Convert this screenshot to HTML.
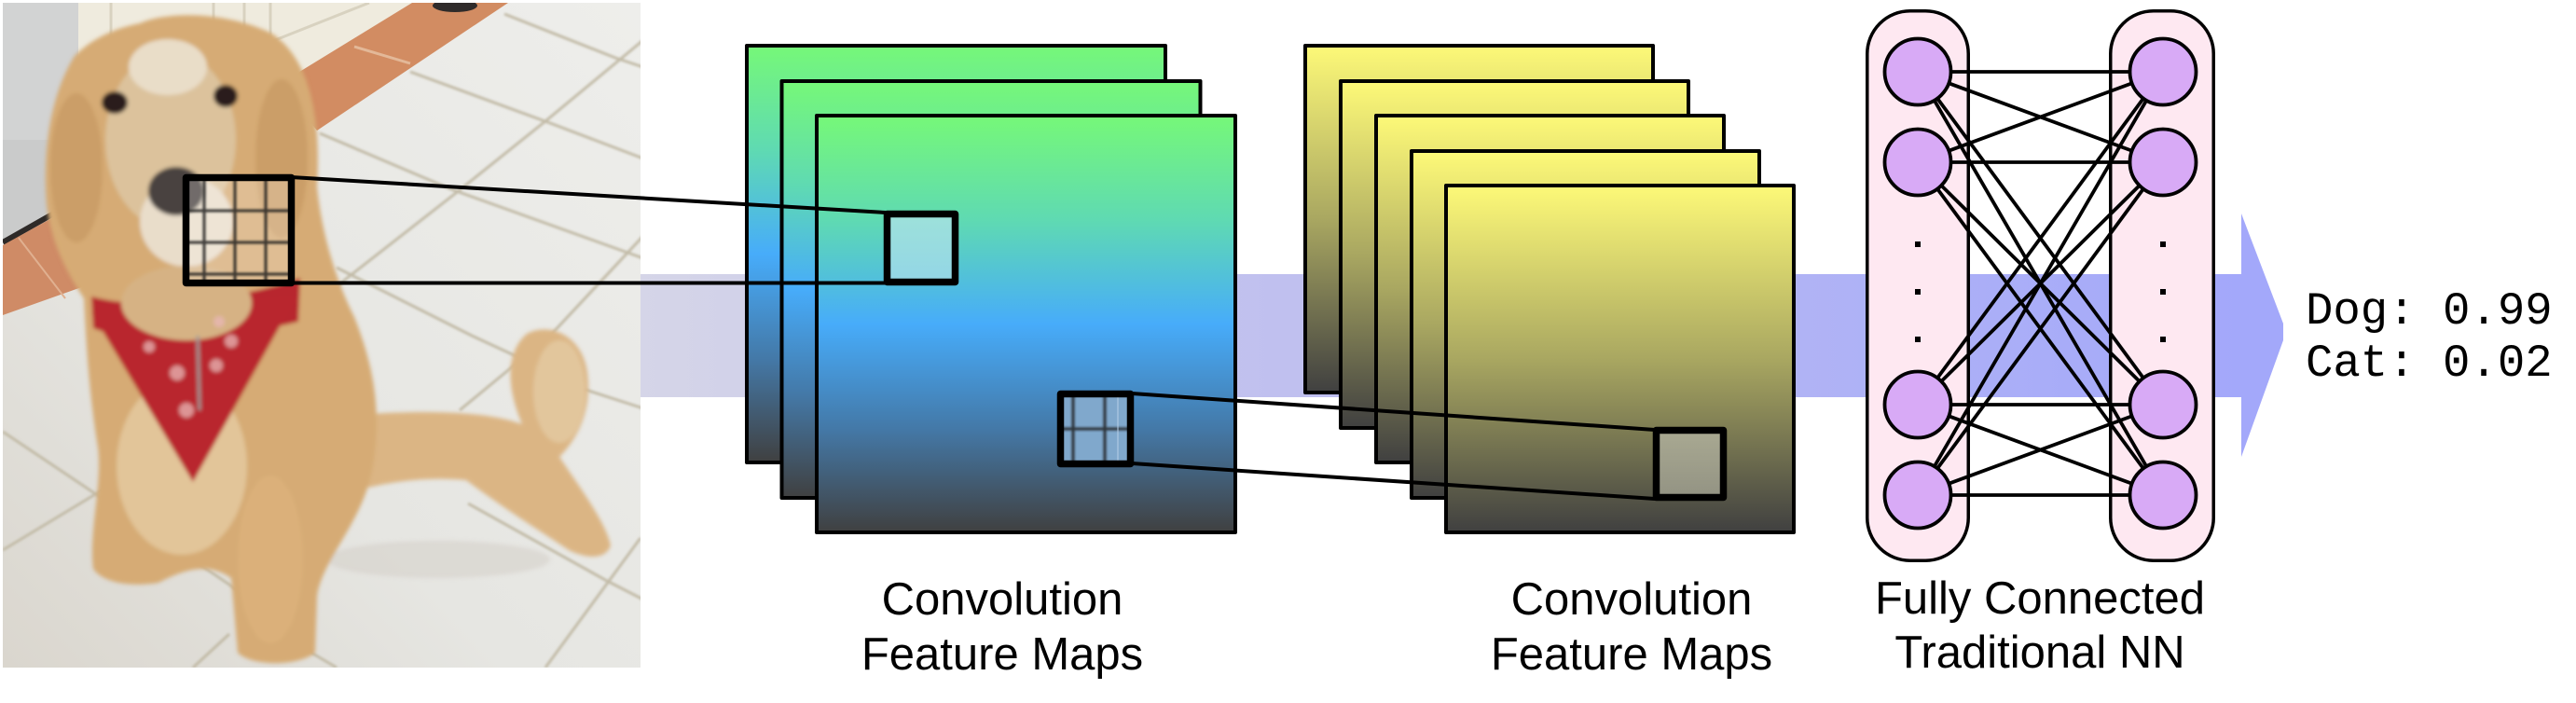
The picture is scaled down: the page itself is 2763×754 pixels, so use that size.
<!DOCTYPE html>
<html><head><meta charset="utf-8"><style>
html,body{margin:0;padding:0;background:#fff;}
svg{display:block;}
</style></head><body>
<svg width="2763" height="754" viewBox="0 0 2763 754" xmlns="http://www.w3.org/2000/svg">
<defs>
  <linearGradient id="band" gradientUnits="userSpaceOnUse" x1="687" y1="0" x2="2404" y2="0">
    <stop offset="0" stop-color="#d5d5e8"/>
    <stop offset="0.4" stop-color="#c0c0ef"/>
    <stop offset="1" stop-color="#a3a8fa"/>
  </linearGradient>
  <linearGradient id="green" x1="0" y1="0" x2="0" y2="1">
    <stop offset="0" stop-color="#76f878"/>
    <stop offset="0.25" stop-color="#5fdab2"/>
    <stop offset="0.5" stop-color="#47acfa"/>
    <stop offset="0.75" stop-color="#4479a8"/>
    <stop offset="1" stop-color="#404040"/>
  </linearGradient>
  <linearGradient id="yellow" x1="0" y1="0" x2="0" y2="1">
    <stop offset="0" stop-color="#fdf978"/>
    <stop offset="0.5" stop-color="#a9a761"/>
    <stop offset="1" stop-color="#404040"/>
  </linearGradient>
  <linearGradient id="floor" x1="1" y1="0" x2="0" y2="1">
    <stop offset="0" stop-color="#eeeeeb"/>
    <stop offset="0.6" stop-color="#e6e6e2"/>
    <stop offset="1" stop-color="#dad6ce"/>
  </linearGradient>
  <linearGradient id="cyanbox" x1="0" y1="0" x2="0" y2="1">
    <stop offset="0" stop-color="#9de1da"/>
    <stop offset="1" stop-color="#93d6e6"/>
  </linearGradient>
  <linearGradient id="graybox" x1="0" y1="0" x2="0" y2="1">
    <stop offset="0" stop-color="#a9a992"/>
    <stop offset="1" stop-color="#939383"/>
  </linearGradient>
  <clipPath id="photoClip"><rect x="3" y="3" width="684" height="713"/></clipPath>
  <filter id="soft" x="-5%" y="-5%" width="110%" height="110%"><feGaussianBlur stdDeviation="2.2"/></filter>
  <filter id="soft1" x="-5%" y="-5%" width="110%" height="110%"><feGaussianBlur stdDeviation="1.2"/></filter>
</defs>

<!-- ===== Band & arrow ===== -->
<rect x="687" y="294" width="1717" height="132" fill="url(#band)"/>
<polygon points="2404,229 2449,347 2449,365 2404,490" fill="#a3a8fa"/>

<!-- ===== Photo ===== -->
<g clip-path="url(#photoClip)">
  <rect x="3" y="3" width="684" height="713" fill="url(#floor)"/>
  <g stroke="#c2bba7" stroke-width="3" fill="none" filter="url(#soft1)">
    <polyline points="541,15 660,62 690,72"/>
    <polyline points="440,77 590,132 690,170"/>
    <polyline points="343,143 484,203 690,277"/>
    <polyline points="361,287 506,360 560,385"/>
    <polyline points="690,43 585,130 489,207 370,300 335,333"/>
    <polyline points="690,253 590,360 493,440"/>
    <polyline points="687,577 585,716"/>
    <polyline points="3,590 119,520"/>
    <polyline points="207,716 246,680"/>
    <polyline points="3,463 88,520 246,627 300,670"/>
    <polyline points="502,540 651,623 690,643"/>
    <polyline points="625,417 690,438"/>
    <polyline points="317,690 361,716"/>
    <polyline points="3,333 97,300"/>
  </g>
  <!-- left wall -->
  <polygon points="3,3 84,3 84,215 66,222 3,258" fill="#d2d3d3"/>
  <polygon points="3,150 84,150 84,215 66,222 3,258" fill="#c6c7c8" opacity="0.7"/>
  <line x1="3" y1="260" x2="70" y2="222" stroke="#2e2a28" stroke-width="6"/>
  <!-- left orange tiles -->
  <polygon points="3,263 70,226 110,300 3,338" fill="#cf8b66"/>
  <line x1="20" y1="255" x2="70" y2="320" stroke="#e0b090" stroke-width="2"/>
  <!-- cabinet -->
  <polygon points="84,3 442,3 300,90 84,90" fill="#efebde"/>
  <g stroke="#d8d2c0" stroke-width="3" fill="none">
    <line x1="119" y1="3" x2="119" y2="70"/>
    <line x1="229" y1="3" x2="229" y2="60"/>
    <line x1="262" y1="3" x2="262" y2="70"/>
    <polyline points="290,3 290,45 396,3"/>
  </g>
  <!-- orange strip -->
  <polygon points="442,3 545,3 340,140 300,90" fill="#d28c62"/>
  <line x1="380" y1="50" x2="440" y2="68" stroke="#e3b898" stroke-width="3"/>
  <ellipse cx="488" cy="6" rx="24" ry="7" fill="#2f2b2a"/>

  <!-- dog -->
  <g filter="url(#soft)">
    <ellipse cx="470" cy="600" rx="120" ry="20" fill="#d2cec6" opacity="0.5"/>
    <path d="M380,445 C450,440 520,440 560,455 C545,420 540,380 565,358 C590,345 625,360 630,400 C635,440 620,470 600,490 C620,520 650,560 655,585 C650,600 630,600 610,590 C580,570 540,545 500,515 C450,510 400,520 370,530 Z" fill="#dbb584"/>
    <ellipse cx="600" cy="420" rx="28" ry="55" fill="#e6cda6" opacity="0.7"/>
    <path d="M150,25 C180,12 240,12 290,35 C330,60 345,120 340,200 C345,250 360,300 380,340 C400,390 410,440 400,500 C390,560 345,600 340,640 L338,700 C320,715 270,715 255,700 L248,620 C220,600 190,615 170,625 C140,630 110,625 100,610 C95,570 110,520 105,480 C95,420 92,360 90,320 C70,290 55,260 50,220 C45,160 55,100 80,60 C100,40 125,30 150,25 Z" fill="#d6ab74"/>
    <ellipse cx="82" cy="180" rx="28" ry="80" fill="#b7864f" opacity="0.35"/>
    <ellipse cx="302" cy="170" rx="28" ry="85" fill="#b7864f" opacity="0.35"/>
    <ellipse cx="183" cy="150" rx="70" ry="95" fill="#dcc29c"/>
    <ellipse cx="180" cy="72" rx="42" ry="30" fill="#e9ddc8"/>
    <ellipse cx="200" cy="238" rx="50" ry="48" fill="#e9ddca"/>
    <ellipse cx="195" cy="500" rx="70" ry="95" fill="#e7d0a9" opacity="0.7"/>
    <ellipse cx="290" cy="600" rx="35" ry="90" fill="#dcb27c" opacity="0.8"/>
    <ellipse cx="123" cy="110" rx="14" ry="12" fill="#2a1e1a"/>
    <ellipse cx="242" cy="103" rx="13" ry="12" fill="#2a1e1a"/>
    <ellipse cx="189" cy="205" rx="30" ry="26" fill="#4a4240"/>
    <!-- bandana -->
    <path d="M98,318 C160,335 260,320 322,298 L320,345 C250,362 150,372 100,352 Z" fill="#b8282e"/>
    <path d="M98,335 L318,318 L207,517 Z" fill="#b9282e"/>
    <ellipse cx="200" cy="325" rx="70" ry="40" fill="#d6b284"/>
    <g fill="#e9b8b8" opacity="0.75">
      <circle cx="190" cy="400" r="8"/><circle cx="200" cy="440" r="8"/>
      <circle cx="232" cy="392" r="7"/><circle cx="160" cy="372" r="6"/>
      <circle cx="248" cy="366" r="7"/><circle cx="235" cy="345" r="6"/>
    </g>
    <line x1="212" y1="360" x2="214" y2="440" stroke="#9a9a9a" stroke-width="3"/>
  </g>

  <!-- grid box on photo -->
  <rect x="200" y="191" width="112" height="113" fill="#ffffff" opacity="0.22"/>
  <g stroke="#1a1a1a" stroke-width="3" opacity="0.85" filter="url(#soft1)">
    <line x1="219" y1="191" x2="219" y2="304"/>
    <line x1="252" y1="191" x2="252" y2="304"/>
    <line x1="285" y1="191" x2="285" y2="304"/>
    <line x1="200" y1="226" x2="312" y2="226"/>
    <line x1="200" y1="260" x2="312" y2="260"/>
    <line x1="200" y1="294" x2="312" y2="294"/>
  </g>
  <rect x="199.5" y="190.5" width="113" height="113" fill="none" stroke="#000" stroke-width="7.5" stroke-linejoin="round"/>
</g>

<!-- ===== Green feature maps ===== -->
<g stroke="#000" stroke-width="4" stroke-linejoin="round">
  <rect x="801" y="49" width="449" height="447" fill="url(#green)"/>
  <rect x="838.5" y="87" width="449" height="447" fill="url(#green)"/>
  <rect x="876" y="124" width="449" height="447" fill="url(#green)"/>
</g>

<!-- ===== Yellow feature maps ===== -->
<g stroke="#000" stroke-width="4" stroke-linejoin="round">
  <rect x="1400" y="49" width="373" height="372" fill="url(#yellow)"/>
  <rect x="1438" y="87" width="373" height="372" fill="url(#yellow)"/>
  <rect x="1476" y="124" width="373" height="372" fill="url(#yellow)"/>
  <rect x="1514" y="162" width="373" height="372" fill="url(#yellow)"/>
  <rect x="1551" y="199" width="373" height="372" fill="url(#yellow)"/>
</g>

<!-- ===== Connectors ===== -->
<g stroke="#000" stroke-width="4">
  <line x1="312" y1="190" x2="950" y2="228"/>
  <line x1="312" y1="303.5" x2="950" y2="303.5"/>
  <line x1="1214" y1="422" x2="1775" y2="461"/>
  <line x1="1214" y1="497" x2="1775" y2="535"/>
</g>

<!-- boxes in maps -->
<rect x="951.5" y="229.5" width="73" height="73" fill="url(#cyanbox)" stroke="#000" stroke-width="7.5" stroke-linejoin="round"/>

<rect x="1137.5" y="422.5" width="75" height="75" fill="#80a8cc"/>
<g stroke="#1a1a1a" stroke-width="3" opacity="0.85" filter="url(#soft1)">
  <line x1="1151" y1="422" x2="1151" y2="498"/>
  <line x1="1185" y1="422" x2="1185" y2="498"/>
  <line x1="1137" y1="460" x2="1213" y2="460"/>
</g>
<line x1="1199" y1="422" x2="1199" y2="498" stroke="#b8d0e8" stroke-width="1"/>
<rect x="1137.5" y="422.5" width="75" height="75" fill="none" stroke="#000" stroke-width="7.5" stroke-linejoin="round"/>

<rect x="1776.5" y="461.5" width="72" height="72" fill="url(#graybox)" stroke="#000" stroke-width="7.5" stroke-linejoin="round"/>

<!-- ===== NN ===== -->
<g stroke="#000" stroke-width="3.5" fill="#fee8f1">
  <rect x="2002.75" y="11.75" width="108.5" height="589.5" rx="46" ry="46"/>
  <rect x="2263.75" y="11.75" width="110.5" height="589.5" rx="46" ry="46"/>
</g>
<g stroke="#000" stroke-width="3.8">
  <line x1="2057" y1="77" x2="2320" y2="77"/>
  <line x1="2057" y1="77" x2="2320" y2="174"/>
  <line x1="2057" y1="77" x2="2320" y2="434"/>
  <line x1="2057" y1="77" x2="2320" y2="531"/>
  <line x1="2057" y1="174" x2="2320" y2="77"/>
  <line x1="2057" y1="174" x2="2320" y2="174"/>
  <line x1="2057" y1="174" x2="2320" y2="434"/>
  <line x1="2057" y1="174" x2="2320" y2="531"/>
  <line x1="2057" y1="434" x2="2320" y2="77"/>
  <line x1="2057" y1="434" x2="2320" y2="174"/>
  <line x1="2057" y1="434" x2="2320" y2="434"/>
  <line x1="2057" y1="434" x2="2320" y2="531"/>
  <line x1="2057" y1="531" x2="2320" y2="77"/>
  <line x1="2057" y1="531" x2="2320" y2="174"/>
  <line x1="2057" y1="531" x2="2320" y2="434"/>
  <line x1="2057" y1="531" x2="2320" y2="531"/>
</g>
<g stroke="#000" stroke-width="3.8" fill="#d8aaf6">
  <circle cx="2057" cy="77" r="35.5"/>
  <circle cx="2057" cy="174" r="35.5"/>
  <circle cx="2057" cy="434" r="35.5"/>
  <circle cx="2057" cy="531" r="35.5"/>
  <circle cx="2320" cy="77" r="35.5"/>
  <circle cx="2320" cy="174" r="35.5"/>
  <circle cx="2320" cy="434" r="35.5"/>
  <circle cx="2320" cy="531" r="35.5"/>
</g>
<g fill="#000">
  <rect x="2054" y="259" width="6" height="6"/>
  <rect x="2054" y="310" width="6" height="6"/>
  <rect x="2054" y="361" width="6" height="6"/>
  <rect x="2317" y="259" width="6" height="6"/>
  <rect x="2317" y="310" width="6" height="6"/>
  <rect x="2317" y="361" width="6" height="6"/>
</g>

<!-- ===== Labels ===== -->
<g font-family="'Liberation Sans', Arial, sans-serif" font-size="49" fill="#000" text-anchor="middle">
  <text x="1075" y="659">Convolution</text>
  <text x="1075" y="718">Feature Maps</text>
  <text x="1750" y="659">Convolution</text>
  <text x="1750" y="718">Feature Maps</text>
  <text x="2188" y="658">Fully Connected</text>
  <text x="2188" y="716">Traditional NN</text>
</g>
<g font-family="'Liberation Mono', 'Courier New', monospace" font-size="49" fill="#000">
  <text x="2473" y="347">Dog: 0.99</text>
  <text x="2473" y="403">Cat: 0.02</text>
</g>
</svg>
</body></html>
